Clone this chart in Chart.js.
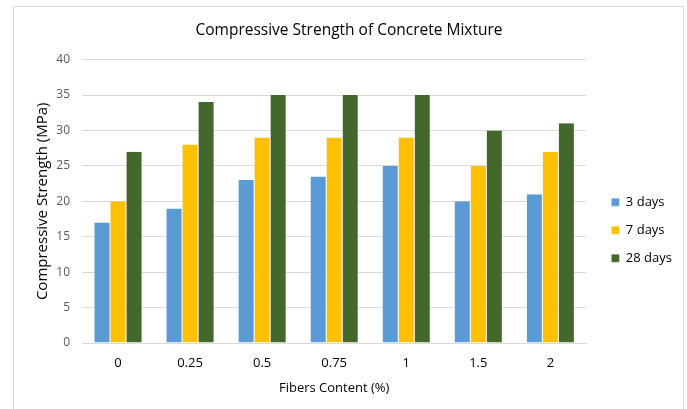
<!DOCTYPE html>
<html>
<head>
<meta charset="utf-8">
<script src="https://cdn.jsdelivr.net/npm/chart.js"></script>
<style>
  html, body { margin: 0; padding: 0; background: #fff; }
  #wrap { position: relative; width: 687px; height: 409px; overflow: hidden; }
  #frame { position: absolute; left: 13px; top: 6px; width: 671px; height: 420px; border: 1px solid #d9d9d9; box-sizing: border-box; }
  canvas { position: absolute; left: 0; top: 0; }
</style>
</head>
<body>
<div id="wrap">
  <div id="frame"></div>
  <canvas id="chart" width="687" height="409"></canvas>
</div>
<script>
const categories = ['0', '0.25', '0.5', '0.75', '1', '1.5', '2'];
const days3 = [17, 19, 23, 23.5, 25, 20, 21];
const days7 = [20, 28, 29, 29, 29, 25, 27];
const days28 = [27, 34, 35, 35, 35, 30, 31];
const yTicks = [0, 5, 10, 15, 20, 25, 30, 35, 40];

const font = "'Open Sans', sans-serif";

new Chart(document.getElementById('chart'), {
  type: 'bar',
  data: {
    labels: categories,
    datasets: [
      { label: '3 days', data: days3, backgroundColor: '#5b9bd5' },
      { label: '7 days', data: days7, backgroundColor: '#ffc000' },
      { label: '28 days', data: days28, backgroundColor: '#43682b' }
    ]
  },
  options: {
    responsive: false,
    animation: false,
    layout: { padding: { left: 16, right: 5, top: 6, bottom: 9 } },
    datasets: {
      bar: { categoryPercentage: 0.667, barPercentage: 1, borderColor: '#fff', borderWidth: { left: 0.5, right: 0.5 } }
    },
    plugins: {
      title: {
        display: true,
        text: 'Compressive Strength of Concrete Mixture',
        color: '#000',
        font: { family: font, size: 15.5, weight: 'normal' },
        padding: { top: 15, bottom: 20 }
      },
      legend: {
        position: 'right',
        // blank title just pushes the items down a little
        title: { display: true, text: ' ', font: { size: 12 }, padding: 20 },
        labels: {
          color: '#000',
          font: { family: font, size: 13 },
          boxWidth: 8,
          boxHeight: 8,
          padding: 15
        }
      },
      tooltip: { enabled: false }
    },
    scales: {
      x: {
        grid: { display: false, drawTicks: false },
        border: { color: '#d9d9d9' },
        ticks: { color: '#000', font: { family: font, size: 13 }, padding: 12 },
        title: { display: true, text: 'Fibers Content (%)', color: '#000', font: { family: font, size: 13 }, padding: { top: 7, bottom: 4 } },
        afterFit: axis => { axis.height = 57; }
      },
      y: {
        min: 0,
        max: 40,
        afterBuildTicks: axis => { axis.ticks = yTicks.map(v => ({ value: v })); },
        afterFit: axis => { axis.width = 66; },
        grid: { color: '#d9d9d9', drawTicks: false },
        border: { display: false },
        ticks: { color: '#595959', font: { family: font, size: 12 }, padding: 12 },
        title: { display: true, text: 'Compressive Strength (MPa)', color: '#000', font: { family: font, size: 15 }, padding: { top: 18, bottom: 0 } }
      },
      // empty right-hand spacer so the legend sits a bit away from the plot
      gap: {
        type: 'linear',
        position: 'right',
        grid: { display: false },
        border: { display: false },
        ticks: { display: false },
        afterFit: axis => { axis.width = 10; }
      }
    }
  }
});
</script>
</body>
</html>
